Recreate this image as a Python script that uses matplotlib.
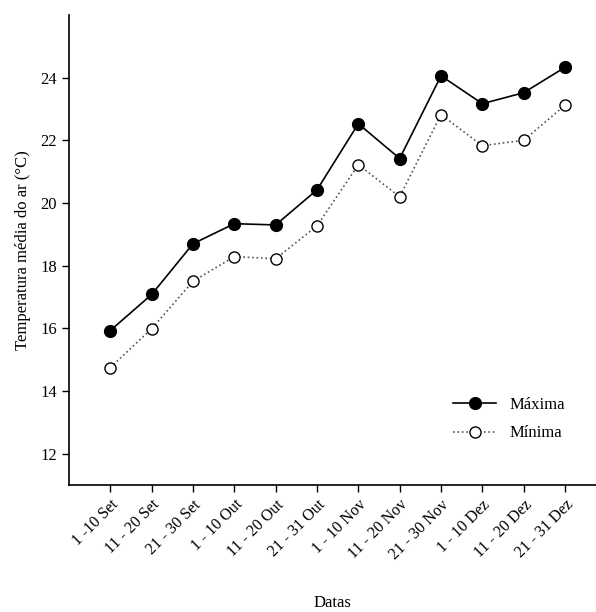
import matplotlib
matplotlib.use("Agg")
import matplotlib.pyplot as plt

periods = ["1 -10 Set", "11 - 20 Set", "21 - 30 Set", "1 - 10 Out", "11 - 20 Out",
           "21 - 31 Out", "1 - 10 Nov", "11 - 20 Nov", "21 - 30 Nov", "1 - 10 Dez",
           "11 - 20 Dez", "21 - 31 Dez"]
maxima = [15.93, 17.08, 18.7, 19.34, 19.3, 20.42, 22.53, 21.42, 24.06, 23.17, 23.52, 24.33]
minima = [14.75, 15.99, 17.5, 18.29, 18.22, 19.27, 21.22, 20.2, 22.82, 21.83, 22.0, 23.12]

plt.rcParams["font.family"] = ["Liberation Serif", "DejaVu Serif"]

x = list(range(1, len(periods) + 1))

fig = plt.figure(figsize=(5.96, 6.12), dpi=100)
ax = fig.add_axes([69 / 596, 1 - 485 / 612, 527 / 596, 470 / 612])

ax.plot(x, maxima, "-", color="black", lw=1.2, marker="o", ms=8.5,
        mfc="black", mec="black", label="Máxima")
ax.plot(x, minima, ":", color="#555555", lw=1.2, marker="o", ms=8,
        mfc="white", mec="black", mew=1.0, label="Mínima")

ax.set_xlim(0, 12.75)
ax.set_ylim(11, 26)
ax.set_yticks([12, 14, 16, 18, 20, 22, 24])
ax.set_xticks(x)
ax.set_xticklabels(periods, rotation=45, ha="right", rotation_mode="anchor", fontsize=11.5)
ax.tick_params(axis="y", labelsize=12, length=5, width=1)
ax.tick_params(axis="x", length=5, width=1)

for s in ["top", "right"]:
    ax.spines[s].set_visible(False)
for s in ["left", "bottom"]:
    ax.spines[s].set_linewidth(1.2)

ax.set_ylabel("Temperatura média do ar (°C)", fontsize=12, labelpad=7)
ax.set_xlabel("Datas", fontsize=12)
ax.xaxis.set_label_coords(0.5, -0.234)

ax.legend(frameon=False, loc="center", bbox_to_anchor=(0.835, 0.14),
          fontsize=12, handlelength=2.6, labelspacing=0.75)

fig.savefig("out.png", dpi=100)
